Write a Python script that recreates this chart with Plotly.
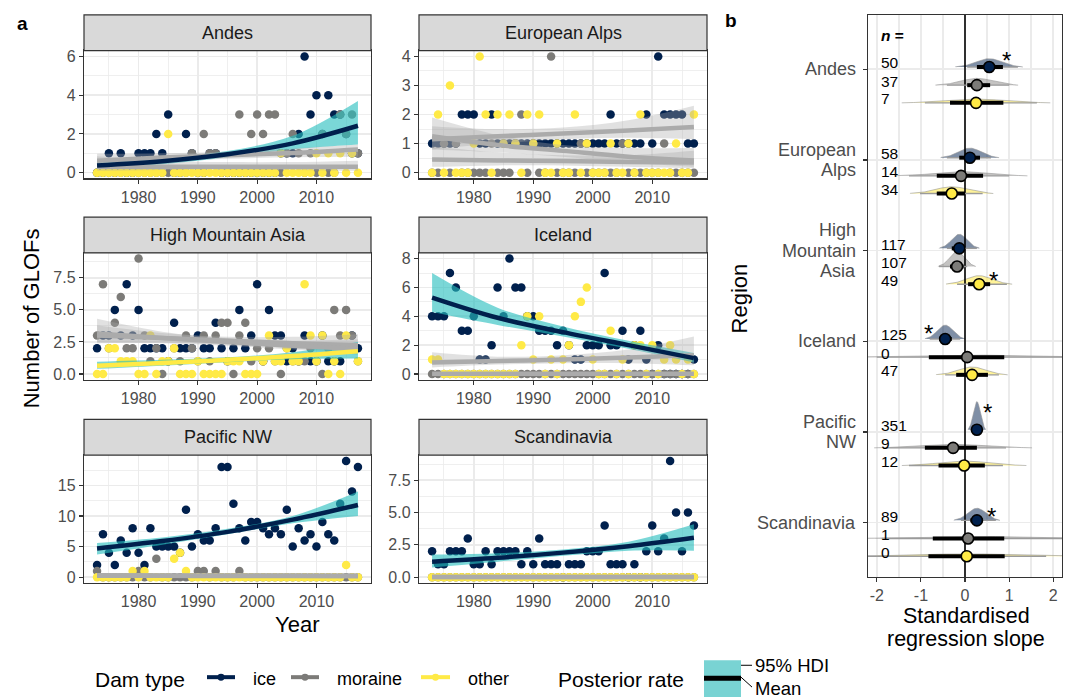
import numpy as np
import plotly.graph_objects as go

W, H = 1071, 700
FONT = "Liberation Sans, Arial, Helvetica, sans-serif"

def px(x):
    return x / W

def py(y):
    return 1 - y / H

# ---------------- data: panel a ----------------
years = list(range(1973, 2018))
fit_years = [1973, 1984, 1995, 2006, 2017]
regions = ["Andes", "European Alps", "High Mountain Asia", "Iceland", "Pacific NW", "Scandinavia"]
dam_types = ["ice", "moraine", "other"]
dam_colors = ["#00204D", "#7C7B78", "#FFEA46"]

andes_ice = [0,0,1,0,1,0,0,1,1,1,2,1,3,0,0,2,1,0,0,1,1,0,0,0,0,0,0,0,0,0,0,1,1,1,2,6,3,4,2,4,3,3,2,1,1]
andes_moraine = [0,0,0,0,0,0,0,0,0,0,0,0,0,0,0,0,1,0,2,1,1,0,0,0,3,0,2,3,2,3,3,0,1,2,1,0,1,0,2,0,0,3,2,3,1]
andes_other = [0,0,0,0,0,0,0,0,0,0,0,0,2,0,0,0,0,0,0,0,0,0,0,0,0,0,0,0,0,0,0,1,0,0,0,0,0,1,0,1,0,1,0,1,0]

alps_ice = [1,1,1,1,1,2,2,2,1,1,2,1,1,1,1,1,1,1,1,1,1,1,1,1,1,1,1,1,1,1,2,1,1,1,1,1,2,1,4,2,2,2,2,1,1]
alps_moraine = [0,0,1,0,1,0,0,0,0,0,1,0,0,0,1,2,0,1,0,0,4,0,0,0,0,1,0,0,0,0,0,0,1,0,0,0,0,0,0,1,0,0,0,0,0]
alps_other = [0,2,0,3,0,0,0,1,4,2,0,2,1,2,1,0,2,1,2,0,0,1,0,0,2,0,1,0,0,0,1,0,0,1,0,2,0,0,0,0,0,1,0,0,2]

hma_ice = [2,3,3,5,3,7,3,5,2,2,2,2,1,4,2,2,2,3,2,2,4,2,1,2,5,2,3,7,1,5,3,3,1,2,1,3,1,1,3,1,1,1,2,3,2]
hma_moraine = [3,7,2,4,6,2,2,9,3,1,2,0,1,2,1,3,2,1,3,1,3,4,4,0,3,4,1,2,1,2,1,0,2,1,1,1,2,1,0,2,5,3,5,3,1]
hma_other = [0,0,2,2,1,1,1,0,0,3,0,1,1,2,0,0,0,1,0,0,0,0,1,1,1,0,0,0,1,3,1,1,2,1,1,7,3,1,3,0,1,0,3,2,1]

iceland_ice = [4,4,4,7,6,3,3,4,1,1,2,6,4,8,6,6,4,4,3,3,3,2,3,2,1,1,2,2,2,7,2,2,3,1,2,3,1,0,2,0,0,0,0,0,1]
iceland_moraine = [0,0,0,0,0,0,0,0,0,0,0,0,0,0,0,0,0,0,0,0,0,0,0,0,0,0,0,0,0,0,0,0,0,0,0,0,0,0,0,0,0,0,0,0,0]
iceland_other = [1,1,0,0,0,0,0,0,0,0,0,0,0,0,0,2,4,1,4,0,1,0,1,2,4,5,6,1,0,0,3,0,1,0,2,2,0,2,0,1,2,1,0,1,0]

pacific_ice = [2,7,4,2,6,4,8,4,2,8,5,5,5,5,4,11,5,7,6,6,8,18,18,12,8,6,9,9,8,7,8,7,11,5,8,6,7,5,9,7,6,12,19,14,18]
pacific_moraine = [1,0,0,0,0,0,0,1,0,0,3,0,0,0,0,0,0,1,1,0,1,0,0,0,1,0,0,0,0,0,0,0,0,0,0,0,0,0,0,0,0,0,0,0,0]
pacific_other = [0,0,0,0,0,0,1,0,1,0,0,0,0,3,4,1,0,0,0,0,0,0,0,0,0,0,0,0,0,0,0,0,0,0,0,0,0,0,0,0,0,0,2,0,0]

scand_ice = [2,1,1,2,2,2,3,1,1,2,1,2,2,2,2,1,2,1,3,1,1,1,0,1,1,1,2,2,2,4,1,1,1,0,1,0,2,4,2,3,9,5,2,5,4]
scand_moraine = [0,0,0,0,0,0,0,0,0,0,0,0,0,0,0,0,0,0,0,0,0,0,0,0,0,0,0,0,0,0,0,0,0,0,0,0,0,0,0,0,0,0,0,0,0]
scand_other = [0,0,0,0,0,0,0,0,0,0,0,0,0,0,0,0,0,0,0,0,0,0,0,0,0,0,0,0,0,0,0,0,0,0,0,0,0,0,0,0,0,0,0,0,0]

# posterior mean rate and 95% HDI read at fit_years
andes_ice_fit = [0.37, 0.59, 0.95, 1.51, 2.42]
andes_ice_lo = [0.22, 0.43, 0.80, 1.20, 1.45]
andes_ice_hi = [0.60, 0.80, 1.12, 1.90, 3.70]
andes_moraine_fit = [0.62, 0.78, 0.90, 1.02, 1.20]
andes_moraine_lo = [0.40, 0.58, 0.72, 0.80, 0.82]
andes_moraine_hi = [0.97, 1.00, 1.08, 1.25, 1.45]
andes_other_fit = [0.30, 0.30, 0.31, 0.31, 0.31]
andes_other_lo = [0.10, 0.14, 0.16, 0.14, 0.10]
andes_other_hi = [0.85, 0.62, 0.55, 0.55, 0.62]

alps_ice_fit = [1.15, 1.25, 1.35, 1.45, 1.57]
alps_ice_lo = [0.80, 1.00, 1.15, 1.20, 1.15]
alps_ice_hi = [1.60, 1.50, 1.55, 1.80, 2.30]
alps_moraine_fit = [0.45, 0.42, 0.40, 0.37, 0.35]
alps_moraine_lo = [0.20, 0.25, 0.25, 0.20, 0.15]
alps_moraine_hi = [0.90, 0.70, 0.60, 0.60, 0.75]
alps_other_fit = [1.25, 0.95, 0.75, 0.55, 0.42]
alps_other_lo = [0.80, 0.70, 0.55, 0.35, 0.20]
alps_other_hi = [1.90, 1.30, 0.95, 0.85, 0.85]

hma_ice_fit = [3.00, 2.80, 2.60, 2.40, 2.25]
hma_ice_lo = [2.40, 2.45, 2.30, 2.00, 1.60]
hma_ice_hi = [3.80, 3.20, 2.90, 2.90, 3.10]
hma_moraine_fit = [3.15, 2.80, 2.50, 2.20, 1.95]
hma_moraine_lo = [2.50, 2.40, 2.20, 1.90, 1.50]
hma_moraine_hi = [4.30, 3.30, 2.80, 2.60, 2.70]
hma_other_fit = [0.65, 0.85, 1.10, 1.40, 1.78]
hma_other_lo = [0.40, 0.65, 0.92, 1.15, 1.20]
hma_other_hi = [0.95, 1.10, 1.30, 1.70, 2.50]

iceland_ice_fit = [5.30, 3.90, 2.90, 2.00, 1.10]
iceland_ice_lo = [4.30, 3.40, 2.60, 1.75, 0.80]
iceland_ice_hi = [7.00, 4.60, 3.30, 2.30, 1.45]
iceland_moraine_fit = [0.02, 0.02, 0.02, 0.02, 0.02]
iceland_moraine_lo = [0.00, 0.00, 0.00, 0.00, 0.00]
iceland_moraine_hi = [0.08, 0.06, 0.05, 0.06, 0.08]
iceland_other_fit = [0.80, 0.90, 1.00, 1.15, 1.30]
iceland_other_lo = [0.45, 0.65, 0.75, 0.75, 0.60]
iceland_other_hi = [1.50, 1.20, 1.30, 1.70, 2.60]

pacific_ice_fit = [4.70, 5.90, 7.40, 9.40, 11.80]
pacific_ice_lo = [3.70, 5.30, 7.00, 8.80, 10.00]
pacific_ice_hi = [5.60, 6.50, 7.90, 10.00, 14.00]
pacific_moraine_fit = [0.25, 0.22, 0.20, 0.18, 0.16]
pacific_moraine_lo = [0.08, 0.10, 0.10, 0.08, 0.05]
pacific_moraine_hi = [0.55, 0.40, 0.32, 0.35, 0.50]
pacific_other_fit = [0.30, 0.28, 0.27, 0.26, 0.25]
pacific_other_lo = [0.10, 0.12, 0.14, 0.12, 0.08]
pacific_other_hi = [0.55, 0.45, 0.40, 0.45, 0.70]

scand_ice_fit = [1.20, 1.50, 1.90, 2.40, 3.05]
scand_ice_lo = [0.75, 1.20, 1.65, 2.05, 2.05]
scand_ice_hi = [1.75, 1.85, 2.15, 2.75, 4.10]
scand_moraine_fit = [0.02, 0.02, 0.02, 0.02, 0.02]
scand_moraine_lo = [0.00, 0.00, 0.00, 0.00, 0.00]
scand_moraine_hi = [0.06, 0.05, 0.05, 0.05, 0.06]
scand_other_fit = [0.02, 0.02, 0.02, 0.02, 0.02]
scand_other_lo = [0.00, 0.00, 0.00, 0.00, 0.00]
scand_other_hi = [0.06, 0.05, 0.05, 0.05, 0.06]

# significant trend flags (ice, moraine, other) per region
andes_sig = [True, False, False]
alps_sig = [False, False, False]
hma_sig = [False, False, True]
iceland_sig = [True, False, False]
pacific_sig = [True, False, False]
scand_sig = [True, False, False]

# y tick labels per facet
andes_ticks = [0, 2, 4, 6]
alps_ticks = [0, 1, 2, 3, 4]
hma_ticks = [0, 2.5, 5, 7.5]
iceland_ticks = [0, 2, 4, 6, 8]
pacific_ticks = [0, 5, 10, 15]
scand_ticks = [0, 2.5, 5, 7.5]
year_ticks = [1980, 1990, 2000, 2010]

# ---------------- data: panel b ----------------
ice_mean = [0.55, 0.11, -0.13, -0.45, 0.27, 0.27]
ice_lo66 = [0.27, -0.13, -0.30, -0.59, 0.20, 0.12]
ice_hi66 = [0.86, 0.34, 0.00, -0.30, 0.35, 0.41]
ice_lo95 = [0.05, -0.41, -0.41, -0.80, 0.12, -0.09]
ice_hi95 = [1.20, 0.59, 0.27, -0.11, 0.42, 0.70]
ice_n = [50, 58, 117, 125, 351, 89]

moraine_mean = [0.27, -0.09, -0.18, 0.05, -0.27, 0.07]
moraine_lo66 = [0.05, -0.64, -0.34, -0.82, -0.91, -0.73]
moraine_hi66 = [0.57, 0.41, -0.03, 0.89, 0.27, 0.89]
moraine_lo95 = [-0.41, -1.27, -0.59, -2.00, -1.77, -1.89]
moraine_hi95 = [1.00, 1.00, 0.05, 2.50, 0.93, 2.50]
moraine_n = [37, 14, 107, 0, 9, 1]

other_mean = [0.25, -0.30, 0.32, 0.16, -0.02, 0.04]
other_lo66 = [-0.34, -0.64, 0.07, -0.20, -0.60, -0.83]
other_hi66 = [0.87, 0.00, 0.57, 0.52, 0.45, 0.90]
other_lo95 = [-0.91, -1.02, -0.18, -0.45, -1.27, -2.25]
other_hi95 = [1.63, 0.40, 0.95, 0.77, 0.86, 1.84]
other_n = [7, 34, 49, 47, 12, 0]

region_lines = [["Andes"], ["European", "Alps"], ["High", "Mountain", "Asia"],
                ["Iceland"], ["Pacific", "NW"], ["Scandinavia"]]
slope_ticks = [-2, -1, 0, 1, 2]

# ---------------- build figure ----------------
counts = [
    (andes_ice, andes_moraine, andes_other),
    (alps_ice, alps_moraine, alps_other),
    (hma_ice, hma_moraine, hma_other),
    (iceland_ice, iceland_moraine, iceland_other),
    (pacific_ice, pacific_moraine, pacific_other),
    (scand_ice, scand_moraine, scand_other),
]
fits = [
    [(andes_ice_fit, andes_ice_lo, andes_ice_hi), (andes_moraine_fit, andes_moraine_lo, andes_moraine_hi), (andes_other_fit, andes_other_lo, andes_other_hi)],
    [(alps_ice_fit, alps_ice_lo, alps_ice_hi), (alps_moraine_fit, alps_moraine_lo, alps_moraine_hi), (alps_other_fit, alps_other_lo, alps_other_hi)],
    [(hma_ice_fit, hma_ice_lo, hma_ice_hi), (hma_moraine_fit, hma_moraine_lo, hma_moraine_hi), (hma_other_fit, hma_other_lo, hma_other_hi)],
    [(iceland_ice_fit, iceland_ice_lo, iceland_ice_hi), (iceland_moraine_fit, iceland_moraine_lo, iceland_moraine_hi), (iceland_other_fit, iceland_other_lo, iceland_other_hi)],
    [(pacific_ice_fit, pacific_ice_lo, pacific_ice_hi), (pacific_moraine_fit, pacific_moraine_lo, pacific_moraine_hi), (pacific_other_fit, pacific_other_lo, pacific_other_hi)],
    [(scand_ice_fit, scand_ice_lo, scand_ice_hi), (scand_moraine_fit, scand_moraine_lo, scand_moraine_hi), (scand_other_fit, scand_other_lo, scand_other_hi)],
]
sigs = [andes_sig, alps_sig, hma_sig, iceland_sig, pacific_sig, scand_sig]
ticks = [andes_ticks, alps_ticks, hma_ticks, iceland_ticks, pacific_ticks, scand_ticks]

TEAL_FILL = "rgba(40,190,190,0.62)"
GRAY_FILL = "rgba(170,170,170,0.35)"
GRAY_LINE = "#ABABAB"

cols_px = [(84, 371), (419, 707)]
rows_px = [(12, 48, 177), (216, 252, 380), (420, 456, 585)]

fig = go.Figure()
layout = dict(
    width=W, height=H, autosize=False,
    margin=dict(l=0, r=0, t=0, b=0),
    paper_bgcolor="white", plot_bgcolor="white",
    showlegend=False,
    font=dict(family=FONT, color="#4D4D4D"),
)
shapes = []
annotations = []

axis_common = dict(
    showline=True, mirror=True, linecolor="#333333", linewidth=1.2,
    ticks="outside", ticklen=4, tickcolor="#333333", tickwidth=1.1,
    showgrid=True, gridcolor="#EBEBEB", gridwidth=1.6, zeroline=False,
    tickfont=dict(size=16, color="#4D4D4D", family=FONT),
)

for k, region in enumerate(regions):
    r, c = divmod(k, 2)
    x0p, x1p = cols_px[c]
    st, pt, pb = rows_px[r]
    ax = "" if k == 0 else str(k + 1)
    xa, ya = "x" + ax, "y" + ax

    ymax = max(max(v) for v in counts[k])
    ylo, yhi = -0.05 * ymax, ymax * 1.05
    tv = ticks[k]
    step = tv[1] - tv[0]
    minor_vals = [t + step / 2 for t in tv] + [tv[0] - step / 2]
    if isinstance(step, float):
        ttext = ["%.1f" % t for t in tv]
    else:
        ttext = [str(t) for t in tv]

    layout["xaxis" + ax] = dict(
        axis_common, domain=[px(x0p), px(x1p)], anchor=ya,
        range=[1970.8, 2019.2], tickvals=year_ticks,
        ticktext=[str(t) for t in year_ticks],
        minor=dict(tickvals=[1975, 1985, 1995, 2005, 2015], showgrid=True,
                   gridcolor="#EBEBEB", gridwidth=0.8, ticks=""),
    )
    layout["yaxis" + ax] = dict(
        axis_common, domain=[py(pb), py(pt)], anchor=xa,
        range=[ylo, yhi], tickvals=tv, ticktext=ttext,
        minor=dict(tickvals=minor_vals, showgrid=True,
                   gridcolor="#EBEBEB", gridwidth=0.8, ticks=""),
    )

    # points
    for d in range(3):
        fig.add_trace(go.Scatter(
            x=years, y=counts[k][d], mode="markers", xaxis=xa, yaxis=ya,
            marker=dict(color=dam_colors[d], size=8.5, line=dict(width=0)),
            hoverinfo="skip",
        ))
    # ribbons
    for d in range(3):
        fit, lo, hi = fits[k][d]
        fill = TEAL_FILL if sigs[k][d] else GRAY_FILL
        fig.add_trace(go.Scatter(
            x=fit_years, y=lo, mode="lines", xaxis=xa, yaxis=ya,
            line=dict(width=0, shape="spline"), hoverinfo="skip",
        ))
        fig.add_trace(go.Scatter(
            x=fit_years, y=hi, mode="lines", xaxis=xa, yaxis=ya,
            line=dict(width=0, shape="spline"), fill="tonexty",
            fillcolor=fill, hoverinfo="skip",
        ))
    # lines (non-significant first)
    order = [d for d in range(3) if not sigs[k][d]] + [d for d in range(3) if sigs[k][d]]
    for d in order:
        fit, lo, hi = fits[k][d]
        col = dam_colors[d] if sigs[k][d] else GRAY_LINE
        fig.add_trace(go.Scatter(
            x=fit_years, y=fit, mode="lines", xaxis=xa, yaxis=ya,
            line=dict(color=col, width=4.5, shape="spline"), hoverinfo="skip",
        ))

    # strip
    shapes.append(dict(type="rect", xref="paper", yref="paper",
                       x0=px(x0p), x1=px(x1p), y0=py(pt), y1=py(st),
                       fillcolor="#D9D9D9", line=dict(color="#333333", width=1.2), layer="above"))
    annotations.append(dict(text=region, xref="paper", yref="paper",
                            x=px((x0p + x1p) / 2), y=py((st + pt) / 2),
                            showarrow=False, xanchor="center", yanchor="middle",
                            font=dict(size=18, color="#1A1A1A", family=FONT)))

# ---------------- panel b ----------------
XB, YB = "x7", "y7"
layout["xaxis7"] = dict(
    axis_common, domain=[px(868), px(1062)], anchor=YB, range=[-2.2, 2.2],
    tickvals=slope_ticks, ticktext=[str(t) for t in slope_ticks],
    minor=dict(tickvals=[-1.5, -0.5, 0.5, 1.5], showgrid=True,
               gridcolor="#EBEBEB", gridwidth=1.6, ticks=""),
)
layout["yaxis7"] = dict(
    axis_common, domain=[py(579), py(12)], anchor=XB, range=[0.4, 6.6],
    tickvals=[6, 5, 4, 3, 2, 1], ticktext=["", "", "", "", "", ""],
)

# region labels, one text per line, right-aligned next to the axis ticks
line_gap = 0.225
for i, lines in enumerate(region_lines):
    center = 6 - i
    nl = len(lines)
    for j, t in enumerate(lines):
        yy = center + ((nl - 1) / 2 - j) * line_gap
        annotations.append(dict(text=t, xref="paper", yref=YB, x=px(858), y=yy,
                                showarrow=False, xanchor="right", yanchor="middle",
                                font=dict(size=18, color="#4D4D4D", family=FONT)))

dam_stats = [
    (ice_mean, ice_lo66, ice_hi66, ice_lo95, ice_hi95, ice_n),
    (moraine_mean, moraine_lo66, moraine_hi66, moraine_lo95, moraine_hi95, moraine_n),
    (other_mean, other_lo66, other_hi66, other_lo95, other_hi95, other_n),
]
slab_fills = ["rgba(0,32,77,0.5)", "rgba(124,123,120,0.45)", "rgba(255,234,70,0.55)"]
row_offsets = [0.025, -0.175, -0.37]

slab_traces, line_traces, point_traces = [], [], []
for i in range(6):
    center = 6 - i
    for d in range(3):
        mean, lo66, hi66, lo95, hi95, nn = dam_stats[d]
        base = center + row_offsets[d]
        sd = (hi95[i] - lo95[i]) / 3.92
        h = min(0.027 / sd, 0.31)
        xs = np.linspace(mean[i] - 2.6 * sd, mean[i] + 2.6 * sd, 90)
        ys = base + h * np.exp(-0.5 * ((xs - mean[i]) / sd) ** 2)
        slab_traces.append(go.Scatter(
            x=np.concatenate([[xs[0]], xs, [xs[-1]]]),
            y=np.concatenate([[base], ys, [base]]),
            mode="lines", fill="toself", fillcolor=slab_fills[d],
            line=dict(color="rgba(150,150,150,0.6)", width=1),
            xaxis=XB, yaxis=YB, hoverinfo="skip",
        ))
        line_traces.append(go.Scatter(
            x=[lo95[i], hi95[i]], y=[base, base], mode="lines",
            line=dict(color="#9A9A9A", width=1.4), xaxis=XB, yaxis=YB, hoverinfo="skip",
        ))
        line_traces.append(go.Scatter(
            x=[lo66[i], hi66[i]], y=[base, base], mode="lines",
            line=dict(color="black", width=4), xaxis=XB, yaxis=YB, hoverinfo="skip",
        ))
        point_traces.append(go.Scatter(
            x=[mean[i]], y=[base], mode="markers",
            marker=dict(color=dam_colors[d], size=11, line=dict(color="black", width=1.6)),
            xaxis=XB, yaxis=YB, hoverinfo="skip",
        ))
        annotations.append(dict(text=str(nn[i]), xref=XB, yref=YB, x=-1.95, y=base + 0.045,
                                showarrow=False, xanchor="left", yanchor="middle",
                                font=dict(size=15.5, color="black", family=FONT)))

for t in slab_traces:
    fig.add_trace(t)
fig.add_trace(go.Scatter(x=[0, 0], y=[0.4, 6.6], mode="lines",
                         line=dict(color="black", width=1.6), xaxis=XB, yaxis=YB, hoverinfo="skip"))
for t in line_traces:
    fig.add_trace(t)
for t in point_traces:
    fig.add_trace(t)

annotations.append(dict(text="<b><i>n</i> =</b>", xref=XB, yref=YB, x=-1.95, y=6.37,
                        showarrow=False, xanchor="left", yanchor="middle",
                        font=dict(size=15.5, color="black", family=FONT)))

# significance asterisks (placement)
star_pos = [(0.95, 6.10), (0.64, 3.67), (-0.82, 3.09), (0.50, 2.21), (0.59, 1.07)]
for sx, sy in star_pos:
    annotations.append(dict(text="*", xref=XB, yref=YB, x=sx, y=sy, showarrow=False,
                            xanchor="center", yanchor="middle",
                            font=dict(size=24, color="black", family=FONT)))

# ---------------- titles & labels ----------------
def ann(text, x, y, size, color="black", angle=0, xanchor="center", bold=False):
    annotations.append(dict(text=("<b>%s</b>" % text) if bold else text,
                            xref="paper", yref="paper", x=px(x), y=py(y),
                            showarrow=False, xanchor=xanchor, yanchor="middle",
                            textangle=angle, font=dict(size=size, color=color, family=FONT)))

ann("a", 22, 21, 19, bold=True)
ann("b", 731, 18, 19, bold=True)
ann("Number of GLOFs", 31, 318, 22, angle=-90)
ann("Year", 297, 627, 22)
ann("Region", 739, 298, 22, angle=-90)
ann("Standardised", 966, 618, 21.5)
ann("regression slope", 966, 642, 21.5)

# ---------------- legend ----------------
ann("Dam type", 93, 682, 21, xanchor="left")
legend_keys = [(207, 235, 251), (291, 319, 335), (421, 450, 466)]
for (k0, k1, tx), col, lab in zip(legend_keys, dam_colors, dam_types):
    shapes.append(dict(type="line", xref="paper", yref="paper",
                       x0=px(k0), x1=px(k1), y0=py(680), y1=py(680),
                       line=dict(color=col, width=4)))
    cx = (k0 + k1) / 2
    shapes.append(dict(type="circle", xref="paper", yref="paper",
                       x0=px(cx - 3.5), x1=px(cx + 3.5), y0=py(683.5), y1=py(676.5),
                       fillcolor=col, line=dict(width=0)))
    ann(lab, tx, 682, 18, xanchor="left")

ann("Posterior rate", 556, 682, 21, xanchor="left")
shapes.append(dict(type="rect", xref="paper", yref="paper",
                   x0=px(704), x1=px(741), y0=py(700), y1=py(663),
                   fillcolor="#79D3D3", line=dict(width=0)))
shapes.append(dict(type="line", xref="paper", yref="paper",
                   x0=px(704), x1=px(741), y0=py(681), y1=py(681),
                   line=dict(color="black", width=5)))
shapes.append(dict(type="line", xref="paper", yref="paper",
                   x0=px(741), x1=px(752), y0=py(668), y1=py(668),
                   line=dict(color="black", width=1)))
shapes.append(dict(type="line", xref="paper", yref="paper",
                   x0=px(741), x1=px(752), y0=py(680), y1=py(690),
                   line=dict(color="black", width=1)))
ann("95% HDI", 753, 668, 18.5, xanchor="left")
ann("Mean", 753, 691, 18.5, xanchor="left")

layout["shapes"] = shapes
layout["annotations"] = annotations
fig.update_layout(**layout)

fig.write_html(
    "out.html",
    config={"displayModeBar": False, "staticPlot": True},
    post_script="document.body.style.margin='0px';document.body.style.padding='0px';"
                "document.documentElement.style.overflow='hidden';",
)
